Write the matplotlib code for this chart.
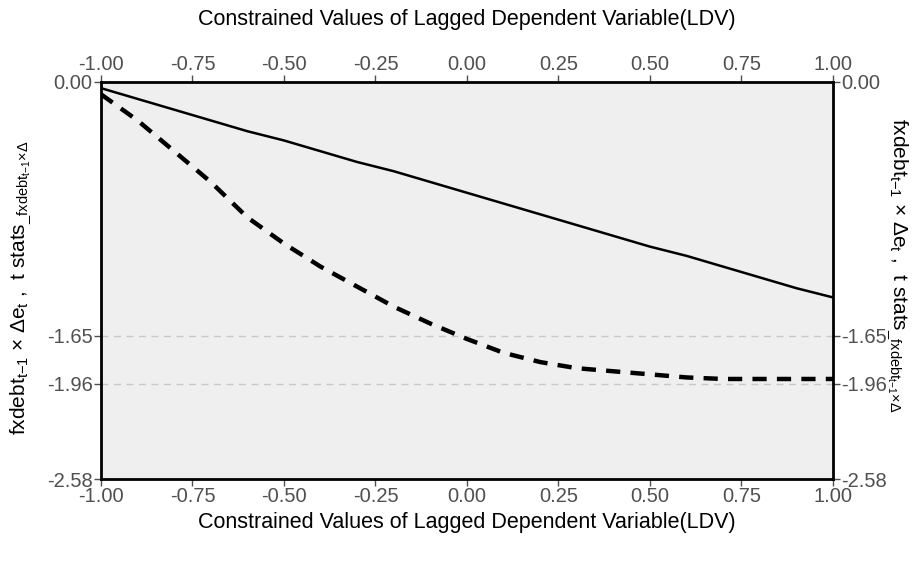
import matplotlib.pyplot as plt

plt.rcParams.update({
    "font.family": ["Liberation Sans", "DejaVu Sans"],
    "font.size": 14,
    "mathtext.fontset": "custom",
    "mathtext.rm": "Liberation Sans",
    "mathtext.it": "Liberation Sans",
    "mathtext.default": "regular",
})

ldv = [-1.0, -0.9, -0.8, -0.7, -0.6, -0.5, -0.4, -0.3, -0.2, -0.1, 0.0,
       0.1, 0.2, 0.3, 0.4, 0.5, 0.6, 0.7, 0.8, 0.9, 1.0]
coef = [-0.04, -0.11, -0.18, -0.25, -0.32, -0.38, -0.45, -0.52, -0.58, -0.65, -0.72,
        -0.79, -0.86, -0.93, -1.00, -1.07, -1.13, -1.20, -1.27, -1.34, -1.40]
tstat = [-0.08, -0.25, -0.45, -0.65, -0.88, -1.05, -1.20, -1.33, -1.46, -1.57, -1.67,
         -1.76, -1.82, -1.86, -1.88, -1.90, -1.92, -1.93, -1.93, -1.93, -1.93]
xticks = [-1.00, -0.75, -0.50, -0.25, 0.00, 0.25, 0.50, 0.75, 1.00]
yticks = [0.00, -1.65, -1.96, -2.58]
crit = [-1.65, -1.96]

xlabel = "Constrained Values of Lagged Dependent Variable(LDV)"
ylabel = r"fxdebt$_{t\mathrm{-}1}$ × Δe$_t$ ,  t stats$_{\_\mathrm{fxdebt}_{t\mathrm{-}1}\mathrm{×Δ}}$"
txt = "#505050"

fig = plt.figure(figsize=(9.18, 5.65), dpi=100)
ax = fig.add_axes([0.110, 0.1522, 0.7974, 0.7027])
ax.set_facecolor("#efefef")

for c in crit:
    ax.axhline(c, color="#c8c8c8", lw=1, ls=(0, (5, 4)), zorder=1)

ax.plot(ldv, coef, color="black", lw=1.8, zorder=3)
ax.plot(ldv, tstat, color="black", lw=3.2, ls=(0, (3.2, 2.3)), zorder=3)

ax.set_xlim(-1, 1)
ax.set_ylim(-2.58, 0)
ax.set_xticks(xticks)
ax.set_xticklabels([f"{v:.2f}" for v in xticks])
ax.set_yticks(yticks)
ax.set_yticklabels([f"{v:.2f}" for v in yticks])
ax.tick_params(direction="out", length=5, width=1, colors=txt, labelsize=14.5,
               top=True, right=True, labeltop=True, labelright=True, pad=1)
for s in ax.spines.values():
    s.set_linewidth(2)
    s.set_color("black")

fig.text(0.5 * (0.110 + 0.9074), 0.965, xlabel, ha="center", va="center", fontsize=15.5)
fig.text(0.5 * (0.110 + 0.9074), 0.076, xlabel, ha="center", va="center", fontsize=15.5)
fig.text(0.022, 0.49, ylabel, rotation=90, ha="center", va="center", fontsize=15)
fig.text(0.978, 0.53, ylabel, rotation=-90, ha="center", va="center", fontsize=15)

fig.savefig("out.png", dpi=100)
